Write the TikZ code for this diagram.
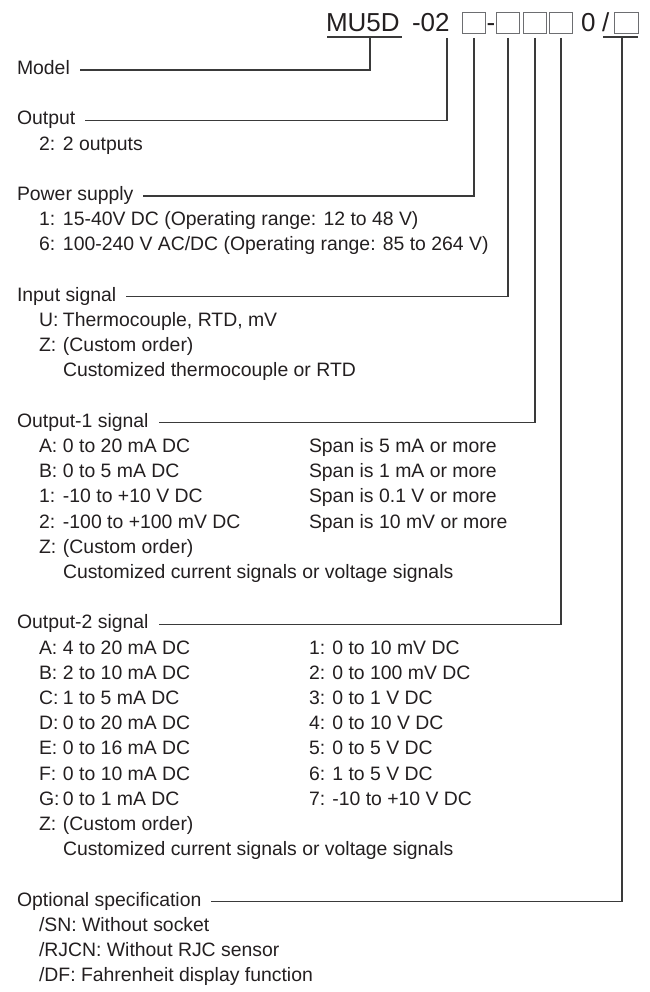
\documentclass[tikz,border=0pt]{standalone}
\usepackage{fontspec}
\setmainfont{Liberation Sans}
\usetikzlibrary{calc}
\definecolor{ink}{HTML}{231F20}
\definecolor{wirec}{HTML}{3A3A3A}
\definecolor{boxc}{HTML}{6D6E71}
\newcommand\itm[2]{\makebox[24pt][l]{#1}#2}
\begin{document}
\begin{tikzpicture}[x=1pt,y=-1pt,
  txt/.style={anchor=base west, inner sep=0pt, outer sep=0pt, text=ink, font=\fontsize{19.4}{23}\selectfont},
  big/.style={txt, font=\fontsize{26}{30}\selectfont},
  codebox/.style={draw=boxc, line width=0.9pt, minimum width=23.5pt, minimum height=21pt, inner sep=0pt, outer sep=0pt, anchor=south},
  wire/.style={draw=wirec, line width=1.1pt}]
\useasboundingbox (0,0) rectangle (649,992);

% ---- code line ----
\node[big] (mu) at (326,32) {MU5D};
\node[big] (n02) at (412,32) {-02};
\node[codebox] (b1) at (474,33) {};
\node[big] (dsh) at (486.5,32) {-};
\node[codebox] (b2) at (508,33) {};
\node[codebox] (b3) at (535,33) {};
\node[codebox] (b4) at (561,33) {};
\node[big] (zero) at (581,32) {0};
\node[big] (slash) at (602,32) {/};
\node[codebox] (b5) at (626.5,33) {};
\draw[wire] (327,37) -- (402,37);
\draw[wire] (603,37) -- (638,37);
\coordinate (pMU) at (370,37);
\coordinate (p02) at (447,38);
\coordinate (pSL) at (622,37);

% ---- headings ----
\node[txt] (hModel) at (17,74.5) {Model};
\node[txt] (hOut) at (17,124.9) {Output};
\node[txt] (hPow) at (17,200.5) {Power supply};
\node[txt] (hIn) at (17,301.3) {Input signal};
\node[txt] (hO1) at (17,427.3) {Output-1 signal};
\node[txt] (hO2) at (17,628.9) {Output-2 signal};
\node[txt] (hOpt) at (17,906.1) {Optional specification};

% ---- connectors ----
\draw[wire] (pMU) |- ($(hModel.base east)+(10,-4.5)$);
\draw[wire] (p02) |- ($(hOut.base east)+(10,-4.5)$);
\draw[wire] ($(b1.south)+(0,5)$) |- ($(hPow.base east)+(10,-4.5)$);
\draw[wire] ($(b2.south)+(0,5)$) |- ($(hIn.base east)+(10,-4.5)$);
\draw[wire] ($(b3.south)+(0,5)$) |- ($(hO1.base east)+(10,-4.5)$);
\draw[wire] ($(b4.south)+(0,5)$) |- ($(hO2.base east)+(10,-4.5)$);
\draw[wire] (pSL) |- ($(hOpt.base east)+(10,-4.5)$);

% ---- items ----
\node[txt] (o1) at (39,150.1) {\itm{2:}{2 outputs}};

\node[txt] (p1) at (39,225.7) {\itm{1:}{15-40V DC (Operating range: 12 to 48 V)}};
\node[txt] (p6) at (39,250.9) {\itm{6:}{100-240 V AC/DC (Operating range: 85 to 264 V)}};

\node[txt] (iU) at (39,326.5) {\itm{U:}{Thermocouple, RTD, mV}};
\node[txt] (iZ) at (39,351.7) {\itm{Z:}{(Custom order)}};
\node[txt] (iC) at (63,376.9) {Customized thermocouple or RTD};

\node[txt] (aA) at (39,452.5) {\itm{A:}{0 to 20 mA DC}};
\node[txt] (aB) at (39,477.7) {\itm{B:}{0 to 5 mA DC}};
\node[txt] (a1) at (39,502.9) {\itm{1:}{-10 to +10 V DC}};
\node[txt] (a2) at (39,528.1) {\itm{2:}{-100 to +100 mV DC}};
\node[txt] (aZ) at (39,553.3) {\itm{Z:}{(Custom order)}};
\node[txt] (aC) at (63,578.5) {Customized current signals or voltage signals};
\node[txt] (sA) at (309,452.5) {Span is 5 mA or more};
\node[txt] (sB) at (309,477.7) {Span is 1 mA or more};
\node[txt] (s1) at (309,502.9) {Span is 0.1 V or more};
\node[txt] (s2) at (309,528.1) {Span is 10 mV or more};

\node[txt] (cA) at (39,654.1) {\itm{A:}{4 to 20 mA DC}};
\node[txt] (cB) at (39,679.3) {\itm{B:}{2 to 10 mA DC}};
\node[txt] (cC) at (39,704.5) {\itm{C:}{1 to 5 mA DC}};
\node[txt] (cD) at (39,729.7) {\itm{D:}{0 to 20 mA DC}};
\node[txt] (cE) at (39,754.9) {\itm{E:}{0 to 16 mA DC}};
\node[txt] (cF) at (39,780.1) {\itm{F:}{0 to 10 mA DC}};
\node[txt] (cG) at (39,805.3) {\itm{G:}{0 to 1 mA DC}};
\node[txt] (cZ) at (39,830.5) {\itm{Z:}{(Custom order)}};
\node[txt] (cCu) at (63,855.7) {Customized current signals or voltage signals};
\node[txt] (d1) at (309,654.1) {1: 0 to 10 mV DC};
\node[txt] (d2) at (309,679.3) {2: 0 to 100 mV DC};
\node[txt] (d3) at (309,704.5) {3: 0 to 1 V DC};
\node[txt] (d4) at (309,729.7) {4: 0 to 10 V DC};
\node[txt] (d5) at (309,754.9) {5: 0 to 5 V DC};
\node[txt] (d6) at (309,780.1) {6: 1 to 5 V DC};
\node[txt] (d7) at (309,805.3) {7: -10 to +10 V DC};

\node[txt] (oSN) at (39,931.3) {/SN: Without socket};
\node[txt] (oRJ) at (39,956.5) {/RJCN: Without RJC sensor};
\node[txt] (oDF) at (39,981.7) {/DF: Fahrenheit display function};
\end{tikzpicture}
\end{document}
